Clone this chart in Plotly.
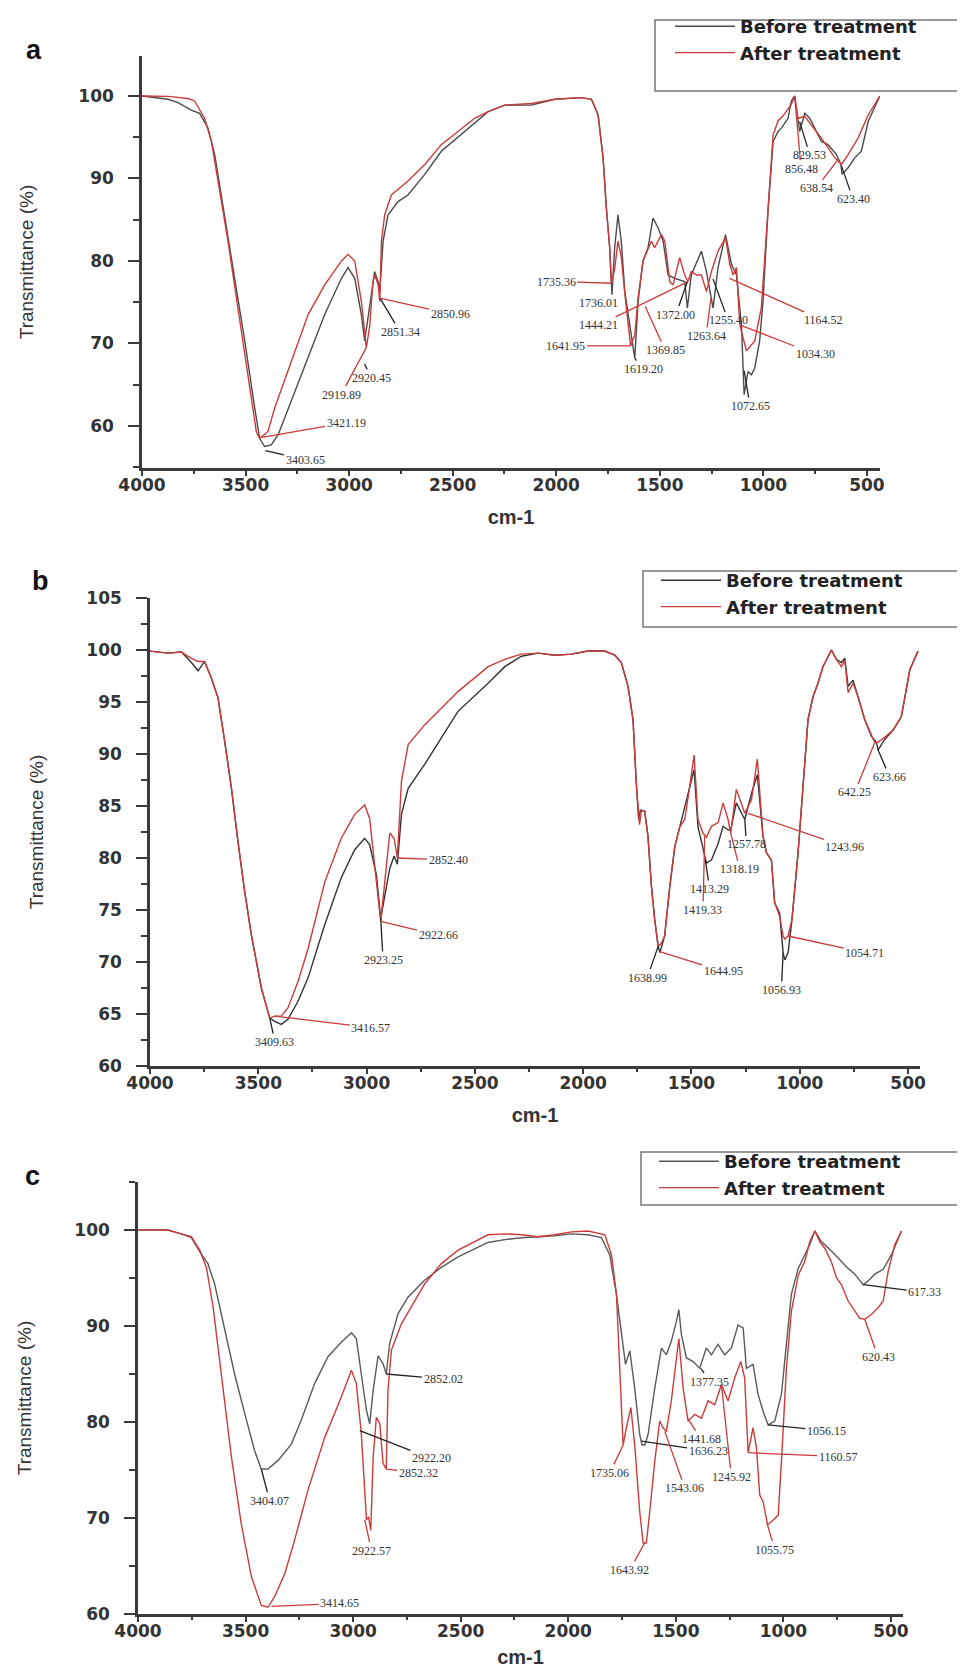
import plotly.graph_objects as go

W, H = 965, 1669
RED = "#cc3b3b"
BLK_A = "#4a4a4a"
BLK_B = "#333333"
BLK_C = "#5a5a5a"
AXC = "#3a3a3a"

# ---------------- Panel a ----------------
A_WN_BEFORE = [4000, 3874, 3826, 3762, 3722, 3681, 3649, 3601, 3553, 3504, 3456, 3432, 3408, 3376, 3343,
               3279, 3198, 3118, 3037, 3005, 2973, 2941, 2925, 2901, 2877, 2860, 2852, 2836, 2812, 2764,
               2716, 2635, 2555, 2329, 2249, 2120, 2007, 1879, 1830, 1798, 1774, 1758, 1742, 1731, 1718,
               1702, 1686, 1669, 1637, 1621, 1605, 1581, 1557, 1533, 1508, 1484, 1460, 1428, 1380, 1367,
               1348, 1299, 1275, 1243, 1219, 1183, 1154, 1130, 1106, 1093, 1074, 1058, 1042, 1018, 1002,
               977, 953, 929, 913, 881, 865, 849, 825, 800, 776, 752, 720, 688, 647, 626, 620, 591, 559,
               527, 494, 438]
A_T_BEFORE = [100.0, 99.6, 99.2, 98.3, 97.9, 96.1, 92.9, 85.6, 78.3, 70.3, 62.2, 58.5, 57.5, 57.7, 58.9,
              63.0, 68.2, 73.5, 77.9, 79.2, 77.9, 73.5, 70.3, 74.3, 78.7, 77.5, 76.3, 82.4, 85.6, 87.2,
              88.0, 90.5, 93.3, 98.1, 98.9, 98.9, 99.6, 99.8, 99.6, 97.7, 92.5, 86.4, 81.6, 75.9, 81.6,
              85.6, 82.4, 76.3, 70.7, 68.2, 75.1, 80.0, 81.6, 85.2, 84.0, 82.4, 78.3, 77.9, 77.5, 74.3,
              78.3, 81.2, 78.7, 74.3, 79.2, 83.2, 79.6, 78.3, 72.3, 63.8, 66.6, 66.2, 67.0, 70.3, 75.1,
              86.4, 94.5, 95.7, 96.1, 97.3, 99.4, 100.0, 95.7, 97.9, 97.3, 96.1, 94.5, 94.1, 92.9, 91.7,
              90.5, 91.3, 92.5, 93.3, 96.9, 100.0]
A_WN_AFTER = [4000, 3874, 3778, 3746, 3698, 3665, 3633, 3585, 3537, 3488, 3448, 3432, 3392, 3359, 3279,
              3198, 3118, 3037, 3005, 2973, 2941, 2917, 2901, 2885, 2877, 2860, 2852, 2844, 2828, 2796,
              2716, 2635, 2555, 2394, 2329, 2249, 2120, 2007, 1879, 1830, 1798, 1774, 1758, 1742, 1734,
              1718, 1702, 1686, 1669, 1653, 1641, 1621, 1605, 1581, 1541, 1525, 1492, 1476, 1452, 1436,
              1404, 1380, 1364, 1348, 1323, 1299, 1275, 1251, 1219, 1183, 1162, 1146, 1130, 1114, 1082,
              1042, 1010, 977, 953, 929, 905, 865, 849, 833, 800, 720, 655, 623, 591, 543, 494, 438]
A_T_AFTER = [100.0, 99.96, 99.7, 99.4, 97.3, 94.5, 89.7, 82.4, 74.3, 66.2, 59.3, 58.5, 59.3, 62.2, 67.8,
             73.5, 77.1, 80.0, 80.8, 80.0, 75.1, 69.5, 72.0, 77.5, 78.3, 77.1, 75.1, 82.4, 85.6, 88.0,
             89.7, 91.7, 94.1, 97.3, 98.1, 98.9, 99.1, 99.6, 99.8, 99.6, 97.7, 92.5, 86.4, 81.6, 77.3,
             79.0, 82.4, 80.5, 76.0, 72.0, 69.7, 71.0, 75.5, 80.0, 82.4, 81.6, 83.2, 82.4, 77.5, 77.1,
             80.4, 78.3, 77.5, 78.7, 78.3, 78.3, 76.3, 78.7, 81.2, 82.8, 79.6, 78.3, 79.2, 72.3, 69.1,
             70.3, 74.3, 86.4, 95.3, 97.0, 97.6, 99.0, 100.0, 97.3, 97.5, 94.9, 92.5, 91.7, 92.9, 94.9,
             97.7, 100.0]

A_LABELS = ["3421.19", "3403.65", "2920.45", "2919.89", "2851.34", "2850.96", "1735.36", "1736.01",
            "1444.21", "1641.95", "1619.20", "1369.85", "1372.00", "1263.64", "1255.40", "1164.52",
            "1034.30", "1072.65", "829.53", "856.48", "638.54", "623.40"]
A_LABEL_IS_AFTER = [1, 0, 0, 1, 0, 1, 1, 0, 1, 1, 0, 1, 0, 1, 0, 1, 1, 0, 0, 1, 1, 0]
A_PEAK_WN = [3421, 3404, 2925, 2917, 2851, 2851, 1733, 1731, 1364, 1641, 1621, 1571, 1367, 1253, 1243,
             1164, 1108, 1093, 825, 849, 640, 623]
A_PEAK_T = [58.6, 57.0, 67.5, 69.5, 75.5, 75.5, 77.3, 75.9, 77.5, 69.7, 68.2, 74.5, 77.5, 75.5, 77.8,
            77.9, 72.2, 66.7, 96.9, 100.0, 92.3, 91.5]
A_TEXT_WN = [3015, 3213, 2894, 3039, 2754, 2513, 2001, 1798, 1798, 1953, 1581, 1475, 1422, 1277, 1170,
             712, 750, 1064, 775, 818, 746, 567]
A_TEXT_T = [60.4, 55.9, 65.8, 63.8, 71.4, 73.6, 77.5, 74.9, 72.2, 69.7, 66.9, 69.2, 73.5, 70.9, 72.8,
            72.8, 68.7, 62.4, 92.8, 91.2, 88.8, 87.5]

# ---------------- Panel b ----------------
B_WN_BEFORE = [4002, 3917, 3855, 3809, 3778, 3748, 3717, 3686, 3655, 3624, 3594, 3563, 3532, 3486, 3447,
               3424, 3394, 3363, 3317, 3270, 3193, 3117, 3055, 3009, 2986, 2955, 2935, 2916, 2893, 2873,
               2858, 2839, 2808, 2732, 2655, 2578, 2439, 2362, 2285, 2208, 2131, 2055, 1978, 1901, 1854,
               1824, 1793, 1770, 1754, 1744, 1736, 1716, 1701, 1685, 1670, 1654, 1646, 1624, 1600, 1577,
               1554, 1531, 1508, 1488, 1470, 1447, 1431, 1408, 1377, 1354, 1331, 1319, 1293, 1254, 1223,
               1196, 1170, 1154, 1131, 1116, 1093, 1077, 1069, 1054, 1036, 1008, 985, 962, 939, 916, 893,
               869, 854, 831, 808, 792, 777, 754, 731, 700, 669, 646, 638, 608, 569, 531, 492, 454]
B_T_BEFORE = [99.9, 99.7, 99.8, 98.8, 98.0, 98.9, 97.3, 95.4, 91.2, 86.7, 81.6, 76.8, 72.6, 67.5, 64.6,
              64.3, 64.0, 64.5, 66.2, 68.5, 73.6, 78.1, 80.8, 81.9, 81.3, 78.4, 74.2, 76.5, 79.0, 80.2,
              79.4, 84.2, 86.7, 89.0, 91.5, 94.1, 96.8, 98.4, 99.4, 99.7, 99.5, 99.6, 99.9, 99.9, 99.5,
              98.8, 96.5, 93.3, 86.9, 83.7, 84.6, 84.5, 82.1, 77.3, 74.1, 71.5, 70.9, 72.5, 77.3, 81.1,
              83.0, 85.0, 86.9, 88.5, 83.0, 81.1, 79.5, 79.8, 81.4, 83.05, 82.7, 82.7, 85.3, 83.7, 86.2,
              88.0, 82.1, 80.5, 79.8, 75.7, 74.7, 70.9, 70.2, 70.9, 74.1, 80.5, 86.9, 93.3, 95.5, 96.8,
              98.4, 99.4, 100.0, 99.1, 98.8, 99.2, 96.5, 97.1, 95.5, 93.3, 91.7, 91.1, 90.4, 91.4, 92.3,
              93.6, 98.1, 99.9]
B_WN_AFTER = [4002, 3917, 3855, 3809, 3778, 3748, 3717, 3686, 3655, 3624, 3594, 3563, 3532, 3486, 3447,
              3424, 3394, 3363, 3317, 3270, 3193, 3117, 3055, 3009, 2986, 2955, 2935, 2916, 2893, 2873,
              2858, 2839, 2808, 2732, 2655, 2578, 2439, 2362, 2285, 2208, 2131, 2055, 1978, 1901, 1854,
              1824, 1793, 1770, 1754, 1744, 1740, 1731, 1716, 1701, 1685, 1670, 1654, 1639, 1624, 1600,
              1577, 1554, 1531, 1508, 1488, 1470, 1447, 1431, 1408, 1377, 1354, 1331, 1319, 1293, 1254,
              1223, 1196, 1170, 1154, 1131, 1116, 1093, 1077, 1069, 1054, 1036, 1008, 985, 962, 939, 916,
              893, 869, 854, 831, 808, 792, 777, 754, 731, 700, 669, 654, 642, 608, 569, 531, 492, 454]
B_T_AFTER = [99.9, 99.7, 99.8, 99.2, 98.9, 98.9, 97.3, 95.4, 91.2, 86.7, 81.6, 76.8, 72.6, 67.5, 64.6,
             64.8, 64.8, 65.6, 68.1, 71.3, 77.7, 81.9, 84.2, 85.1, 83.8, 77.7, 73.9, 77.7, 82.4, 81.9,
             80.0, 87.4, 90.9, 92.8, 94.4, 96.0, 98.4, 99.1, 99.6, 99.7, 99.5, 99.6, 99.9, 99.9, 99.5,
             98.8, 96.5, 93.3, 86.9, 83.7, 83.2, 84.6, 84.5, 82.1, 77.3, 74.1, 71.5, 71.8, 72.5, 77.3,
             81.1, 83.0, 83.7, 86.9, 89.9, 83.7, 82.4, 82.0, 83.05, 83.4, 85.3, 83.7, 82.4, 86.6, 84.3,
             85.6, 89.5, 82.1, 80.5, 79.8, 75.7, 74.4, 72.5, 72.2, 72.5, 74.1, 80.5, 86.9, 93.3, 95.5,
             96.8, 98.4, 99.4, 100.0, 99.1, 98.4, 99.0, 95.9, 96.8, 95.5, 93.3, 91.7, 91.1, 91.1, 91.6,
             92.3, 93.6, 98.1, 99.9]

B_LABELS = ["3409.63", "3416.57", "2923.25", "2922.66", "2852.40", "1638.99", "1644.95", "1419.33",
            "1413.29", "1318.19", "1257.78", "1243.96", "1054.71", "1056.93", "623.66", "642.25"]
B_LABEL_IS_AFTER = [0, 1, 0, 1, 1, 0, 1, 1, 0, 1, 0, 1, 1, 0, 0, 1]
B_PEAK_WN = [3447, 3424, 2935, 2935, 2858, 1654, 1647, 1439, 1436, 1319, 1254, 1239, 1054, 1077, 641, 654]
B_PEAK_T = [64.6, 64.8, 74.2, 73.9, 80.0, 71.5, 71.0, 82.1, 79.8, 82.4, 83.7, 84.3, 72.5, 70.9, 90.5, 91.1]
B_TEXT_WN = [3423, 2980, 2924, 2670, 2624, 1704, 1354, 1447, 1416, 1277, 1246, 792, 700, 1085, 585, 746]
B_TEXT_T = [62.3, 63.7, 70.2, 72.6, 79.8, 68.5, 69.1, 75.0, 77.0, 78.9, 81.3, 81.1, 70.9, 67.3, 87.8, 86.3]

# ---------------- Panel c ----------------
C_WN_BEFORE = [3999, 3861, 3799, 3752, 3706, 3675, 3644, 3597, 3551, 3504, 3458, 3427, 3396, 3349, 3287,
               3241, 3179, 3117, 3055, 3008, 2985, 2962, 2938, 2923, 2907, 2884, 2861, 2846, 2830, 2791,
               2745, 2667, 2590, 2512, 2373, 2295, 2218, 2140, 2063, 1985, 1908, 1846, 1807, 1776, 1753,
               1734, 1714, 1691, 1668, 1657, 1644, 1629, 1598, 1567, 1544, 1521, 1497, 1486, 1474, 1451,
               1420, 1389, 1358, 1334, 1304, 1273, 1242, 1211, 1187, 1172, 1141, 1118, 1094, 1071, 1040,
               1009, 986, 963, 931, 901, 877, 854, 823, 777, 730, 699, 668, 629, 606, 575, 536, 498, 451]
C_T_BEFORE = [100.0, 100.0, 99.6, 99.2, 97.5, 96.5, 94.4, 89.5, 85.0, 80.9, 77.0, 75.1, 75.1, 76.0, 77.7,
              80.2, 84.0, 86.8, 88.3, 89.3, 88.7, 85.0, 81.2, 79.8, 83.3, 86.9, 86.1, 85.0, 88.2, 91.3,
              93.0, 94.8, 96.1, 97.2, 98.7, 99.0, 99.2, 99.3, 99.4, 99.6, 99.5, 99.2, 97.4, 93.3, 89.1,
              86.0, 87.4, 83.5, 78.7, 77.6, 77.6, 78.7, 83.5, 87.7, 87.0, 88.4, 90.5, 91.7, 89.1, 86.7,
              86.3, 85.6, 87.7, 87.0, 88.1, 87.0, 87.7, 90.1, 89.8, 85.6, 86.0, 82.9, 81.1, 79.7, 80.1,
              82.9, 88.1, 93.3, 96.0, 97.4, 98.5, 99.9, 98.8, 97.8, 96.7, 96.0, 95.4, 94.3, 94.7, 95.4,
              95.9, 97.4, 99.9]
C_WN_AFTER = [3999, 3861, 3799, 3752, 3713, 3682, 3651, 3613, 3566, 3520, 3473, 3427, 3396, 3365, 3318,
              3272, 3210, 3132, 3055, 3008, 2985, 2962, 2946, 2938, 2928, 2918, 2907, 2892, 2876, 2861,
              2846, 2838, 2822, 2776, 2667, 2590, 2512, 2373, 2295, 2218, 2140, 2063, 1985, 1908, 1830,
              1799, 1776, 1761, 1745, 1730, 1709, 1691, 1668, 1652, 1637, 1621, 1598, 1575, 1559, 1544,
              1521, 1486, 1466, 1443, 1412, 1381, 1350, 1319, 1288, 1257, 1226, 1198, 1180, 1164, 1141,
              1125, 1110, 1094, 1074, 1056, 1024, 1009, 986, 963, 931, 901, 877, 854, 831, 808, 777, 753,
              730, 699, 668, 645, 622, 591, 560, 536, 513, 482, 451]
C_T_AFTER = [100.0, 100.0, 99.6, 99.3, 97.9, 96.1, 92.0, 85.0, 76.4, 69.4, 63.9, 60.9, 60.7, 61.8, 64.2,
             67.7, 72.9, 78.4, 82.6, 85.4, 84.0, 78.8, 72.9, 69.8, 70.1, 68.7, 76.3, 80.5, 79.8, 75.7,
             75.1, 83.3, 87.5, 90.2, 94.4, 96.5, 97.9, 99.5, 99.6, 99.5, 99.3, 99.5, 99.8, 99.9, 99.5,
             97.4, 93.3, 86.3, 77.6, 79.4, 81.5, 77.6, 70.7, 67.4, 67.4, 70.7, 75.9, 80.1, 79.4, 79.0,
             82.2, 88.7, 83.5, 80.1, 80.8, 80.4, 82.2, 81.8, 83.9, 82.2, 84.6, 86.3, 84.6, 76.8, 79.4,
             77.3, 72.4, 71.7, 69.3, 69.6, 70.3, 75.9, 85.6, 91.5, 95.3, 96.7, 98.8, 99.9, 98.8, 98.1,
             96.7, 95.0, 94.3, 92.6, 91.5, 90.8, 90.7, 91.2, 91.9, 92.6, 95.7, 98.5, 99.9]

C_LABELS = ["3404.07", "3414.65", "2922.57", "2922.20", "2852.32", "2852.02", "1735.06", "1643.92",
            "1636.23", "1543.06", "1441.68", "1377.35", "1245.92", "1160.57", "1056.15", "1055.75",
            "620.43", "617.33"]
C_LABEL_IS_AFTER = [0, 1, 1, 0, 1, 0, 1, 1, 0, 1, 1, 0, 1, 1, 0, 1, 1, 0]
C_PEAK_WN = [3427, 3380, 2946, 2969, 2846, 2846, 1745, 1645, 1660, 1551, 1446, 1384, 1288, 1164, 1071,
             1074, 622, 629]
C_PEAK_T = [75.1, 60.8, 69.8, 79.1, 75.1, 85.0, 77.6, 67.4, 78.0, 79.0, 80.4, 85.6, 83.9, 76.8, 79.7,
            69.3, 90.7, 94.3]
C_TEXT_WN = [3388, 3062, 2915, 2636, 2698, 2582, 1807, 1714, 1350, 1458, 1381, 1342, 1242, 746, 800,
             1040, 560, 343]
C_TEXT_T = [71.8, 61.1, 66.6, 76.2, 74.7, 84.5, 74.7, 64.6, 77.0, 73.1, 78.2, 84.2, 74.3, 76.4, 79.1,
            66.7, 86.8, 93.5]

SERIES_NAMES = ["Before treatment", "After treatment"]
X_TICKS = [4000, 3500, 3000, 2500, 2000, 1500, 1000, 500]

panels = [
    dict(key="", before=(A_WN_BEFORE, A_T_BEFORE), after=(A_WN_AFTER, A_T_AFTER), blk=BLK_A,
         labels=(A_LABELS, A_LABEL_IS_AFTER, A_PEAK_WN, A_PEAK_T, A_TEXT_WN, A_TEXT_T),
         xdom=[134 / W, 872 / W], ydom=[1 - 460 / H, 1 - 48 / H], xr=[4000, 437], yr=[54.9, 104.85],
         dy=10, yticks=[60, 70, 80, 90, 100], legend="legend", ystand=40, xstand=16, letter="a",
         lx=26, ly=42, box=(647, 12, 957, 83), leg=(662, 0)),
    dict(key="2", before=(B_WN_BEFORE, B_T_BEFORE), after=(B_WN_AFTER, B_T_AFTER), blk=BLK_B,
         labels=(B_LABELS, B_LABEL_IS_AFTER, B_PEAK_WN, B_PEAK_T, B_TEXT_WN, B_TEXT_T),
         xdom=[142 / W, 912 / W], ydom=[1 - 1058 / H, 1 - 590 / H], xr=[4000, 445], yr=[60, 105],
         dy=5, yticks=[60, 65, 70, 75, 80, 85, 90, 95, 100, 105], legend="legend2", ystand=38,
         xstand=16, letter="b", lx=32, ly=573, box=(635, 563, 959, 619), leg=(648, 554)),
    dict(key="3", before=(C_WN_BEFORE, C_T_BEFORE), after=(C_WN_AFTER, C_T_AFTER), blk=BLK_C,
         labels=(C_LABELS, C_LABEL_IS_AFTER, C_PEAK_WN, C_PEAK_T, C_TEXT_WN, C_TEXT_T),
         xdom=[130 / W, 895 / W], ydom=[1 - 1606 / H, 1 - 1174 / H], xr=[4000, 444], yr=[60, 105],
         dy=10, yticks=[60, 70, 80, 90, 100], legend="legend3", ystand=38, xstand=10, letter="c",
         lx=24, ly=1168, box=(633, 1144, 953, 1197), leg=(646, 1135)),
]

fig = go.Figure()
annotations = []
shapes = []
layout = dict(
    width=W, height=H, margin=dict(l=0, r=0, t=0, b=0),
    paper_bgcolor="white", plot_bgcolor="white", showlegend=True,
)

tickfont = dict(family="DejaVu Sans", size=17, color="#333333", weight="bold")

for p in panels:
    k = p["key"]
    xa, ya = "x" + k, "y" + k
    fig.add_trace(go.Scatter(x=p["before"][0], y=p["before"][1], mode="lines", name=SERIES_NAMES[0],
                             line=dict(color=p["blk"], width=1.4), xaxis=xa, yaxis=ya,
                             legend=p["legend"]))
    fig.add_trace(go.Scatter(x=p["after"][0], y=p["after"][1], mode="lines", name=SERIES_NAMES[1],
                             line=dict(color=RED, width=1.4), xaxis=xa, yaxis=ya,
                             legend=p["legend"]))
    layout["xaxis" + k] = dict(
        domain=p["xdom"], range=p["xr"], anchor=ya, tickvals=X_TICKS,
        ticktext=[str(v) for v in X_TICKS], ticks="outside", ticklen=5, tickwidth=2,
        tickcolor=AXC, showline=True, linecolor=AXC, linewidth=2.5, showgrid=False, zeroline=False,
        tickfont=tickfont, automargin=False, ticklabelstandoff=-5,
        minor=dict(ticks="outside", ticklen=3, tickwidth=2, tickcolor=AXC, dtick=250, tick0=0,
                   showgrid=False),
        title=dict(text="cm-1", font=dict(family="Liberation Sans", size=20, color="#333333",
                                          weight="bold"),
                   standoff=p["xstand"]),
    )
    layout["yaxis" + k] = dict(
        domain=p["ydom"], range=p["yr"], anchor=xa, tickvals=p["yticks"], ticks="outside",
        ticklen=11, tickwidth=2, tickcolor=AXC, showline=True, linecolor=AXC, linewidth=2.5,
        showgrid=False, zeroline=False, tickfont=tickfont, automargin=False, ticklabelstandoff=11,
        minor=dict(ticks="outside", ticklen=6, tickwidth=2, tickcolor=AXC, dtick=p["dy"] / 2,
                   tick0=0, showgrid=False),
        title=dict(text="Transmittance (%)",
                   font=dict(family="Liberation Sans", size=19, color="#333333"),
                   standoff=p["ystand"]),
    )
    bx0, by0, bx1, by1 = p["box"]
    shapes.append(dict(type="rect", xref="paper", yref="paper", x0=bx0 / W, x1=bx1 / W,
                       y0=1 - by1 / H, y1=1 - by0 / H, line=dict(color="#777777", width=1.5),
                       fillcolor="rgba(0,0,0,0)"))
    layout[p["legend"]] = dict(
        x=p["leg"][0] / W, y=1 - p["leg"][1] / H, xanchor="left", yanchor="top",
        font=dict(family="DejaVu Sans", size=18, color="#222222", weight="bold"), itemwidth=60,
        bgcolor="rgba(0,0,0,0)", borderwidth=0, tracegroupgap=0,
    )
    annotations.append(dict(text="<b>%s</b>" % p["letter"], xref="paper", yref="paper",
                            x=p["lx"] / W, y=1 - p["ly"] / H, showarrow=False,
                            xanchor="center", yanchor="middle",
                            font=dict(family="Liberation Sans", size=27, color="#111111")))
    labs, is_after, pwn, pt, twn, tt = p["labels"]
    for i, lab in enumerate(labs):
        annotations.append(dict(
            text=lab, x=pwn[i], y=pt[i], xref=xa, yref=ya, ax=twn[i], ay=tt[i], axref=xa, ayref=ya,
            showarrow=True, arrowhead=0, arrowwidth=1.3, standoff=0,
            arrowcolor=RED if is_after[i] else "#222222",
            font=dict(family="Liberation Serif", size=12, color="#333333"),
        ))

layout["annotations"] = annotations
layout["shapes"] = shapes
fig.update_layout(**layout)
fig.write_html("out.html")
